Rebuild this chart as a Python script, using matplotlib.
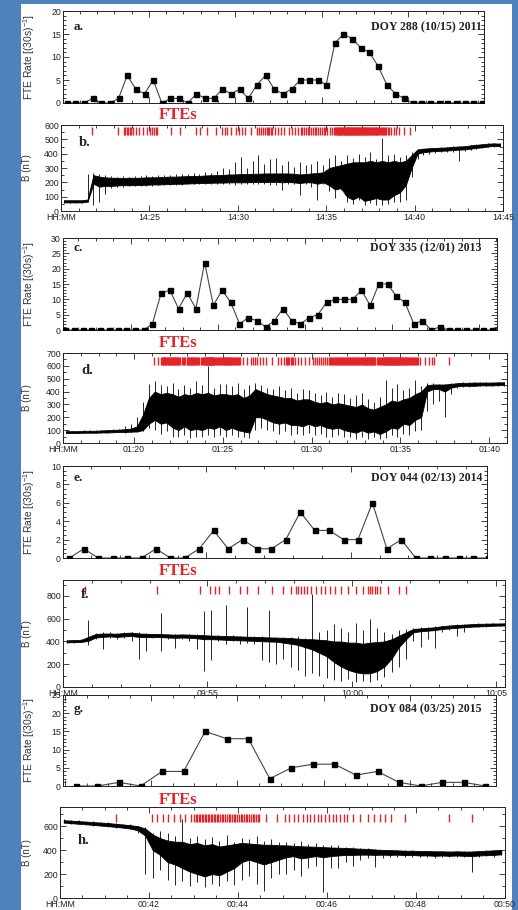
import numpy as np
import matplotlib
matplotlib.use("Agg")
import matplotlib.pyplot as plt
from matplotlib.ticker import MultipleLocator, FixedLocator, FixedFormatter
from matplotlib.patches import Rectangle

W, H = 518, 910

# ---------------- FTE rates (events per 30-s bin) ----------------
a_start = 20.0          # minutes after 14:00, DOY 288 2011
a_rate = [0, 0, 0, 1, 0, 0, 1, 6, 3, 2, 5, 0, 1, 1, 0, 2, 1, 1, 3, 2,
          3, 1, 4, 6, 3, 2, 3, 5, 5, 5, 4, 13, 15, 14, 12, 11, 8, 4, 2, 1,
          0, 0, 0, 0, 0, 0, 0, 0, 0]

c_start = 16.0          # minutes after 01:00, DOY 335 2013
c_rate = [0, 0, 0, 0, 0, 0, 0, 0, 0, 0, 2, 12, 13, 7, 12, 7, 22, 8, 13, 9,
          2, 4, 3, 1, 3, 7, 3, 2, 4, 5, 9, 10, 10, 10, 13, 8, 15, 15, 11, 9,
          2, 3, 0, 1, 0, 0, 0, 0, 0, 0]

e_start = 50.0          # minutes after 09:00, DOY 044 2014
e_rate = [0, 1, 0, 0, 0, 0, 1, 0, 0, 1, 3, 1, 2, 1, 1, 2, 5, 3, 3, 2,
          2, 6, 1, 2, 0, 0, 0, 0, 0, 0]

g_start = 40.0          # minutes after 00:00, DOY 084 2015
g_rate = [0, 0, 1, 0, 4, 4, 15, 13, 13, 2, 5, 6, 6, 3, 4, 1, 0, 1, 1, 0]

# ---------------- |B| (nT) per time bin: dense core band and extremes ----------------
b_start, b_step = 20.0, 1 / 3
b_core_lo = [60, 60, 60, 60, 65, 190, 170, 175, 175, 178, 180, 180, 180, 182, 183,
             185, 185, 187, 188, 190, 190, 192, 193, 195, 195, 197, 198, 198, 200, 200,
             200, 200, 202, 202, 203, 203, 203, 200, 202, 200, 195, 200, 200, 190, 200,
             180, 150, 160, 100, 80, 100, 70, 80, 90, 80, 80, 110, 130, 180, 300,
             400, 410, 415, 418, 420, 422, 425, 428, 430, 435, 440, 445, 450, 455, 452]
b_core_hi = [75, 75, 75, 75, 80, 250, 240, 235, 232, 232, 230, 232, 232, 232, 235,
             235, 236, 238, 240, 240, 242, 243, 245, 245, 248, 250, 250, 252, 255, 255,
             258, 258, 260, 260, 262, 262, 262, 262, 262, 260, 255, 258, 262, 265, 270,
             300, 310, 320, 330, 340, 340, 340, 350, 340, 350, 340, 350, 340, 350, 390,
             430, 435, 438, 440, 442, 444, 448, 450, 452, 458, 462, 466, 470, 472, 470]
b_lo = [58, 58, 58, 58, 60, 40, 60, 120, 160, 170, 170, 172, 172, 175, 175,
        175, 178, 180, 180, 182, 180, 185, 185, 188, 188, 185, 190, 185, 190, 180,
        190, 190, 185, 190, 185, 180, 180, 150, 185, 185, 110, 190, 170, 80, 190,
        140, 90, 150, 60, 50, 80, 45, 55, 40, 40, 50, 60, 60, 80, 240,
        360, 390, 400, 405, 410, 412, 415, 350, 420, 425, 430, 440, 445, 450, 448]
b_hi = [78, 78, 78, 78, 260, 265, 255, 250, 245, 240, 242, 240, 245, 242, 248,
        245, 250, 250, 252, 255, 255, 258, 262, 260, 270, 262, 280, 300, 290, 340,
        380, 300, 350, 390, 330, 360, 370, 320, 350, 310, 340, 320, 330, 350, 320,
        370, 390, 350, 390, 370, 400, 380, 410, 360, 510, 390, 400, 380, 390, 410,
        432, 436, 440, 442, 446, 448, 452, 452, 455, 460, 465, 470, 475, 475, 472]

d_start, d_step = 16.0, 1 / 3
d_core_lo = [78, 78, 78, 80, 80, 80, 82, 82, 84, 85, 86, 88, 90, 100, 150,
             180, 150, 160, 120, 100, 130, 100, 110, 100, 120, 110, 130, 100, 120, 100,
             90, 80, 200, 200, 180, 160, 150, 160, 140, 140, 130, 150, 130, 140, 120,
             110, 120, 100, 90, 80, 100, 80, 90, 70, 90, 120, 110, 150, 140, 180,
             200, 400, 420, 420, 400, 430, 440, 445, 445, 445, 448, 448, 448, 450, 452]
d_core_hi = [92, 92, 92, 95, 95, 95, 98, 100, 102, 104, 108, 112, 130, 220, 350,
             400, 380, 390, 380, 360, 380, 370, 390, 380, 390, 370, 380, 380, 370, 380,
             350, 370, 420, 400, 380, 370, 360, 350, 350, 330, 340, 340, 320, 310, 320,
             300, 310, 300, 290, 280, 300, 270, 260, 280, 300, 330, 320, 340, 350, 380,
             400, 450, 455, 455, 455, 460, 465, 468, 468, 470, 470, 470, 470, 472, 472]
d_lo = [75, 76, 75, 78, 78, 78, 80, 80, 82, 82, 80, 85, 85, 95, 120,
        100, 70, 90, 50, 50, 60, 40, 50, 45, 60, 50, 60, 45, 60, 50,
        45, 40, 100, 120, 100, 90, 70, 90, 60, 70, 60, 80, 60, 70, 50,
        45, 60, 50, 45, 35, 50, 35, 50, 30, 40, 60, 50, 70, 60, 90,
        100, 250, 300, 330, 200, 380, 430, 435, 435, 440, 440, 440, 440, 445, 445]
d_hi = [95, 96, 95, 98, 100, 98, 105, 104, 108, 110, 130, 150, 200, 320, 460,
        480, 450, 440, 470, 420, 450, 430, 480, 450, 600, 430, 460, 460, 440, 470,
        420, 450, 470, 450, 430, 420, 440, 410, 430, 390, 420, 410, 390, 370, 400,
        360, 390, 380, 350, 370, 390, 340, 320, 360, 490, 430, 460, 410, 430, 490,
        440, 465, 465, 460, 460, 465, 470, 472, 472, 474, 474, 474, 474, 476, 476]

f_start, f_step = 50.0, 0.25
f_core_lo = [392, 394, 396, 405, 435, 440, 445, 440, 445, 448, 440, 438,
             440, 438, 435, 432, 435, 432, 428, 420, 420, 418, 415, 412,
             410, 408, 405, 402, 400, 398, 390, 380, 370, 350, 330, 300,
             270, 220, 180, 150, 130, 120, 120, 140, 180, 250, 350, 420,
             480, 490, 495, 500, 510, 515, 520, 525, 530, 532, 535, 538,
             540, 540]
f_core_hi = [410, 412, 414, 440, 465, 470, 470, 468, 475, 478, 470, 468,
             465, 465, 462, 460, 462, 460, 458, 455, 452, 450, 448, 446,
             444, 442, 440, 438, 436, 434, 432, 430, 425, 420, 420, 415,
             410, 400, 400, 390, 390, 380, 390, 395, 400, 420, 450, 480,
             510, 515, 520, 525, 535, 540, 545, 548, 552, 555, 556, 558,
             558, 560]
f_lo = [388, 390, 392, 370, 420, 330, 430, 420, 430, 400, 250, 320,
        430, 320, 420, 340, 420, 400, 330, 140, 240, 400, 380, 400,
        380, 390, 380, 240, 220, 200, 250, 180, 150, 100, 120, 100,
        80, 60, 50, 70, 40, 50, 40, 60, 90, 130, 180, 250,
        400, 350, 420, 340, 480, 500, 450, 480, 525, 528, 530, 532,
        535, 535]
f_hi = [414, 416, 420, 590, 475, 480, 480, 478, 485, 485, 480, 475,
        470, 650, 470, 470, 470, 465, 462, 670, 680, 460, 720, 455,
        450, 700, 448, 445, 680, 440, 436, 440, 450, 430, 820, 480,
        500, 550, 520, 480, 560, 500, 600, 520, 480, 470, 500, 510,
        520, 525, 530, 535, 540, 545, 550, 552, 556, 558, 560, 562,
        562, 564]

h_start, h_step = 40.0, 1 / 6
h_core_lo = [630, 625, 620, 616, 610, 605, 600, 594, 588, 580, 565, 520,
             400, 360, 300, 280, 250, 220, 200, 180, 200, 190, 220, 250,
             300, 320, 300, 280, 300, 320, 340, 350, 330, 340, 350, 340,
             350, 355, 360, 360, 362, 362, 360, 362, 360, 362, 358, 360,
             355, 356, 352, 355, 352, 355, 352, 350, 355, 358, 360, 365]
h_core_hi = [650, 646, 642, 638, 634, 630, 626, 620, 614, 608, 600, 580,
             530, 500, 480, 470, 470, 450, 460, 440, 450, 430, 440, 450,
             460, 455, 450, 445, 445, 440, 440, 436, 432, 430, 428, 425,
             422, 420, 418, 415, 412, 410, 405, 402, 400, 398, 395, 395,
             392, 392, 390, 390, 388, 390, 388, 388, 392, 395, 398, 402]
h_lo = [625, 620, 615, 612, 605, 600, 595, 588, 582, 575, 545, 200,
        170, 230, 150, 110, 140, 100, 130, 90, 120, 100, 140, 110,
        150, 180, 120, 60, 170, 200, 200, 230, 180, 250, 270, 50,
        250, 250, 300, 270, 320, 330, 260, 330, 340, 345, 340, 345,
        340, 345, 330, 345, 340, 345, 340, 220, 345, 350, 340, 355]
h_hi = [656, 652, 648, 645, 640, 636, 632, 628, 622, 615, 605, 590,
        545, 560, 540, 520, 660, 500, 520, 490, 510, 480, 530, 470,
        500, 490, 520, 480, 490, 470, 470, 460, 480, 450, 460, 440,
        440, 440, 430, 425, 420, 415, 410, 405, 402, 400, 398, 398,
        395, 395, 395, 393, 392, 393, 392, 390, 395, 398, 400, 405]

# ---------------- axis text ----------------
date_a, date_c, date_e, date_g = ("DOY 288 (10/15) 2011", "DOY 335 (12/01) 2013",
                                  "DOY 044 (02/13) 2014", "DOY 084 (03/25) 2015")
b_ticks, b_labels = [20, 25, 30, 35, 40, 45], ["HH:MM", "14:25", "14:30", "14:35", "14:40", "14:45"]
d_ticks, d_labels = [16, 20, 25, 30, 35, 40], ["HH:MM", "01:20", "01:25", "01:30", "01:35", "01:40"]
f_ticks, f_labels = [50, 55, 60, 65], ["HH:MM", "09:55", "10:00", "10:05"]
h_ticks, h_labels = [40, 42, 44, 46, 48, 50], ["HH:MM", "00:42", "00:44", "00:46", "00:48", "00:50"]

SANS = ["Liberation Sans", "DejaVu Sans"]
SERIF = ["Liberation Serif", "DejaVu Serif"]
RED = "#e3242b"
BLUE = "#4f81bd"
INK = "#222222"

plt.rcParams["font.family"] = SANS
plt.rcParams["mathtext.fontset"] = "custom"
plt.rcParams["mathtext.rm"] = "Liberation Sans"
plt.rcParams["mathtext.it"] = "Liberation Sans:italic"

fig = plt.figure(figsize=(W / 100, H / 100), dpi=100, facecolor=BLUE)
fig.patches.append(Rectangle((21 / W, 0), (512 - 21) / W, 1 - 4 / H,
                             transform=fig.transFigure, facecolor="white",
                             edgecolor="none", zorder=-10))


def make_axes(left, right, top, bottom):
    ax = fig.add_axes([left / W, 1 - bottom / H, (right - left) / W, (bottom - top) / H])
    ax.set_facecolor("none")
    return ax


def style(ax, ymaj, ymin, xmin):
    ax.yaxis.set_major_locator(MultipleLocator(ymaj))
    ax.yaxis.set_minor_locator(MultipleLocator(ymin))
    ax.xaxis.set_minor_locator(MultipleLocator(xmin))
    ax.tick_params(which="both", direction="in", top=True, right=True,
                   labelsize=6.3, pad=1.5, width=0.6, colors=INK)
    ax.tick_params(which="major", length=4)
    ax.tick_params(which="minor", length=2.2)
    for s in ax.spines.values():
        s.set_linewidth(0.7)
        s.set_color(INK)


def rate_panel(rect, start, rate, xlim, ylim, ymaj, ymin, letter, date, ytext, xmaj, xmin):
    left, right, top, bottom = rect
    ax = make_axes(*rect)
    t = start + 0.25 + 0.5 * np.arange(len(rate))
    ax.plot(t, rate, color="#444444", lw=0.8, marker="s", ms=3.6,
            mfc="black", mec="black", zorder=3)
    ax.set_xlim(*xlim)
    ax.set_ylim(*ylim)
    style(ax, ymaj, ymin, xmin)
    ax.xaxis.set_major_locator(MultipleLocator(xmaj))
    ax.xaxis.set_major_formatter(FixedFormatter([]))
    fig.text(482 / W, 1 - ytext / H, date, ha="right", va="center",
             family=SERIF, fontweight="bold", fontsize=8.6, color=INK)
    fig.text(29 / W, 1 - (top + bottom) / 2 / H, r"FTE Rate [(30s)$^{-1}$]",
             rotation=90, ha="center", va="center", fontsize=7.4, color="#333333")
    fig.text((left + 11) / W, 1 - ytext / H, letter, ha="left", va="center",
             family=SERIF, fontweight="bold", fontsize=9.5, color=INK)
    return ax


def field_panel(rect, start, step, core_lo, core_hi, lo, hi, xlim, ylim, ymaj, ymin,
                ticks, labels, xmin, rate_start, rate, fte_level, letter, letter_y, ftes_y):
    left, right, top, bottom = rect
    ax = make_axes(*rect)
    t = start + step * (np.arange(len(lo)) + 0.5)
    ax.vlines(t, lo, hi, color="black", lw=0.6, zorder=2)
    ax.fill_between(t, core_lo, core_hi, color="black", lw=0.6, zorder=2)
    # event times spread evenly within each 30-s bin of the rate series
    ev = []
    for i, n in enumerate(rate):
        if n:
            ev.extend(rate_start + 0.5 * i + 0.5 * (np.arange(n) + 0.5) / n)
    ax.plot(ev, np.full(len(ev), fte_level), ls="none", marker="|", ms=5.5,
            mew=1.0, color=RED, zorder=3)
    ax.set_xlim(*xlim)
    ax.set_ylim(*ylim)
    style(ax, ymaj, ymin, xmin)
    ax.xaxis.set_major_locator(FixedLocator(ticks))
    ax.xaxis.set_major_formatter(FixedFormatter(labels))
    fig.text(27 / W, 1 - (top + bottom) / 2 / H, "B (nT)", rotation=90,
             ha="center", va="center", fontsize=7, color="#333333")
    fig.text((left + 18) / W, 1 - letter_y / H, letter, ha="left", va="center",
             family=SERIF, fontweight="bold", fontsize=10.5, color=INK)
    fig.text(178 / W, 1 - ftes_y / H, "FTEs", ha="center", va="center",
             family=SERIF, fontweight="bold", fontsize=12, color=RED)
    return ax


rate_panel((63, 484, 11, 103), a_start, a_rate, (20.04, 44.37), (0, 20), 5, 1,
           "a.", date_a, 27, 5, 1)
field_panel((61, 503, 125, 211), b_start, b_step, b_core_lo, b_core_hi, b_lo, b_hi,
            (20, 45), (0, 600), 100, 50, b_ticks, b_labels, 1,
            a_start, a_rate, 555, "b.", 143, 115)

rate_panel((63, 497, 238, 330), c_start, c_rate, (16.12, 41.03), (0, 30), 5, 1,
           "c.", date_c, 248, 5, 1)
field_panel((63, 507, 353, 443), d_start, d_step, d_core_lo, d_core_hi, d_lo, d_hi,
            (16, 41), (0, 700), 100, 50, d_ticks, d_labels, 1,
            c_start, c_rate, 635, "d.", 371, 343)

rate_panel((63, 487, 466, 558), e_start, e_rate, (50.03, 64.72), (0, 10), 2, 0.5,
           "e.", date_e, 478, 5, 1)
field_panel((63, 505, 580, 687), f_start, f_step, f_core_lo, f_core_hi, f_lo, f_hi,
            (50, 65.3), (0, 940), 200, 100, f_ticks, f_labels, 1,
            e_start, e_rate, 848, "f.", 595, 571)

rate_panel((63, 496, 695, 786), g_start, g_rate, (39.95, 50.0), (0, 25), 5, 1,
           "g.", date_g, 709, 2, 0.5)
field_panel((60, 505, 807, 898), h_start, h_step, h_core_lo, h_core_hi, h_lo, h_hi,
            (40, 50), (0, 760), 200, 100, h_ticks, h_labels, 0.5,
            g_start, g_rate, 672, "h.", 840, 800)

fig.savefig("out.png", dpi=100, facecolor=BLUE)
